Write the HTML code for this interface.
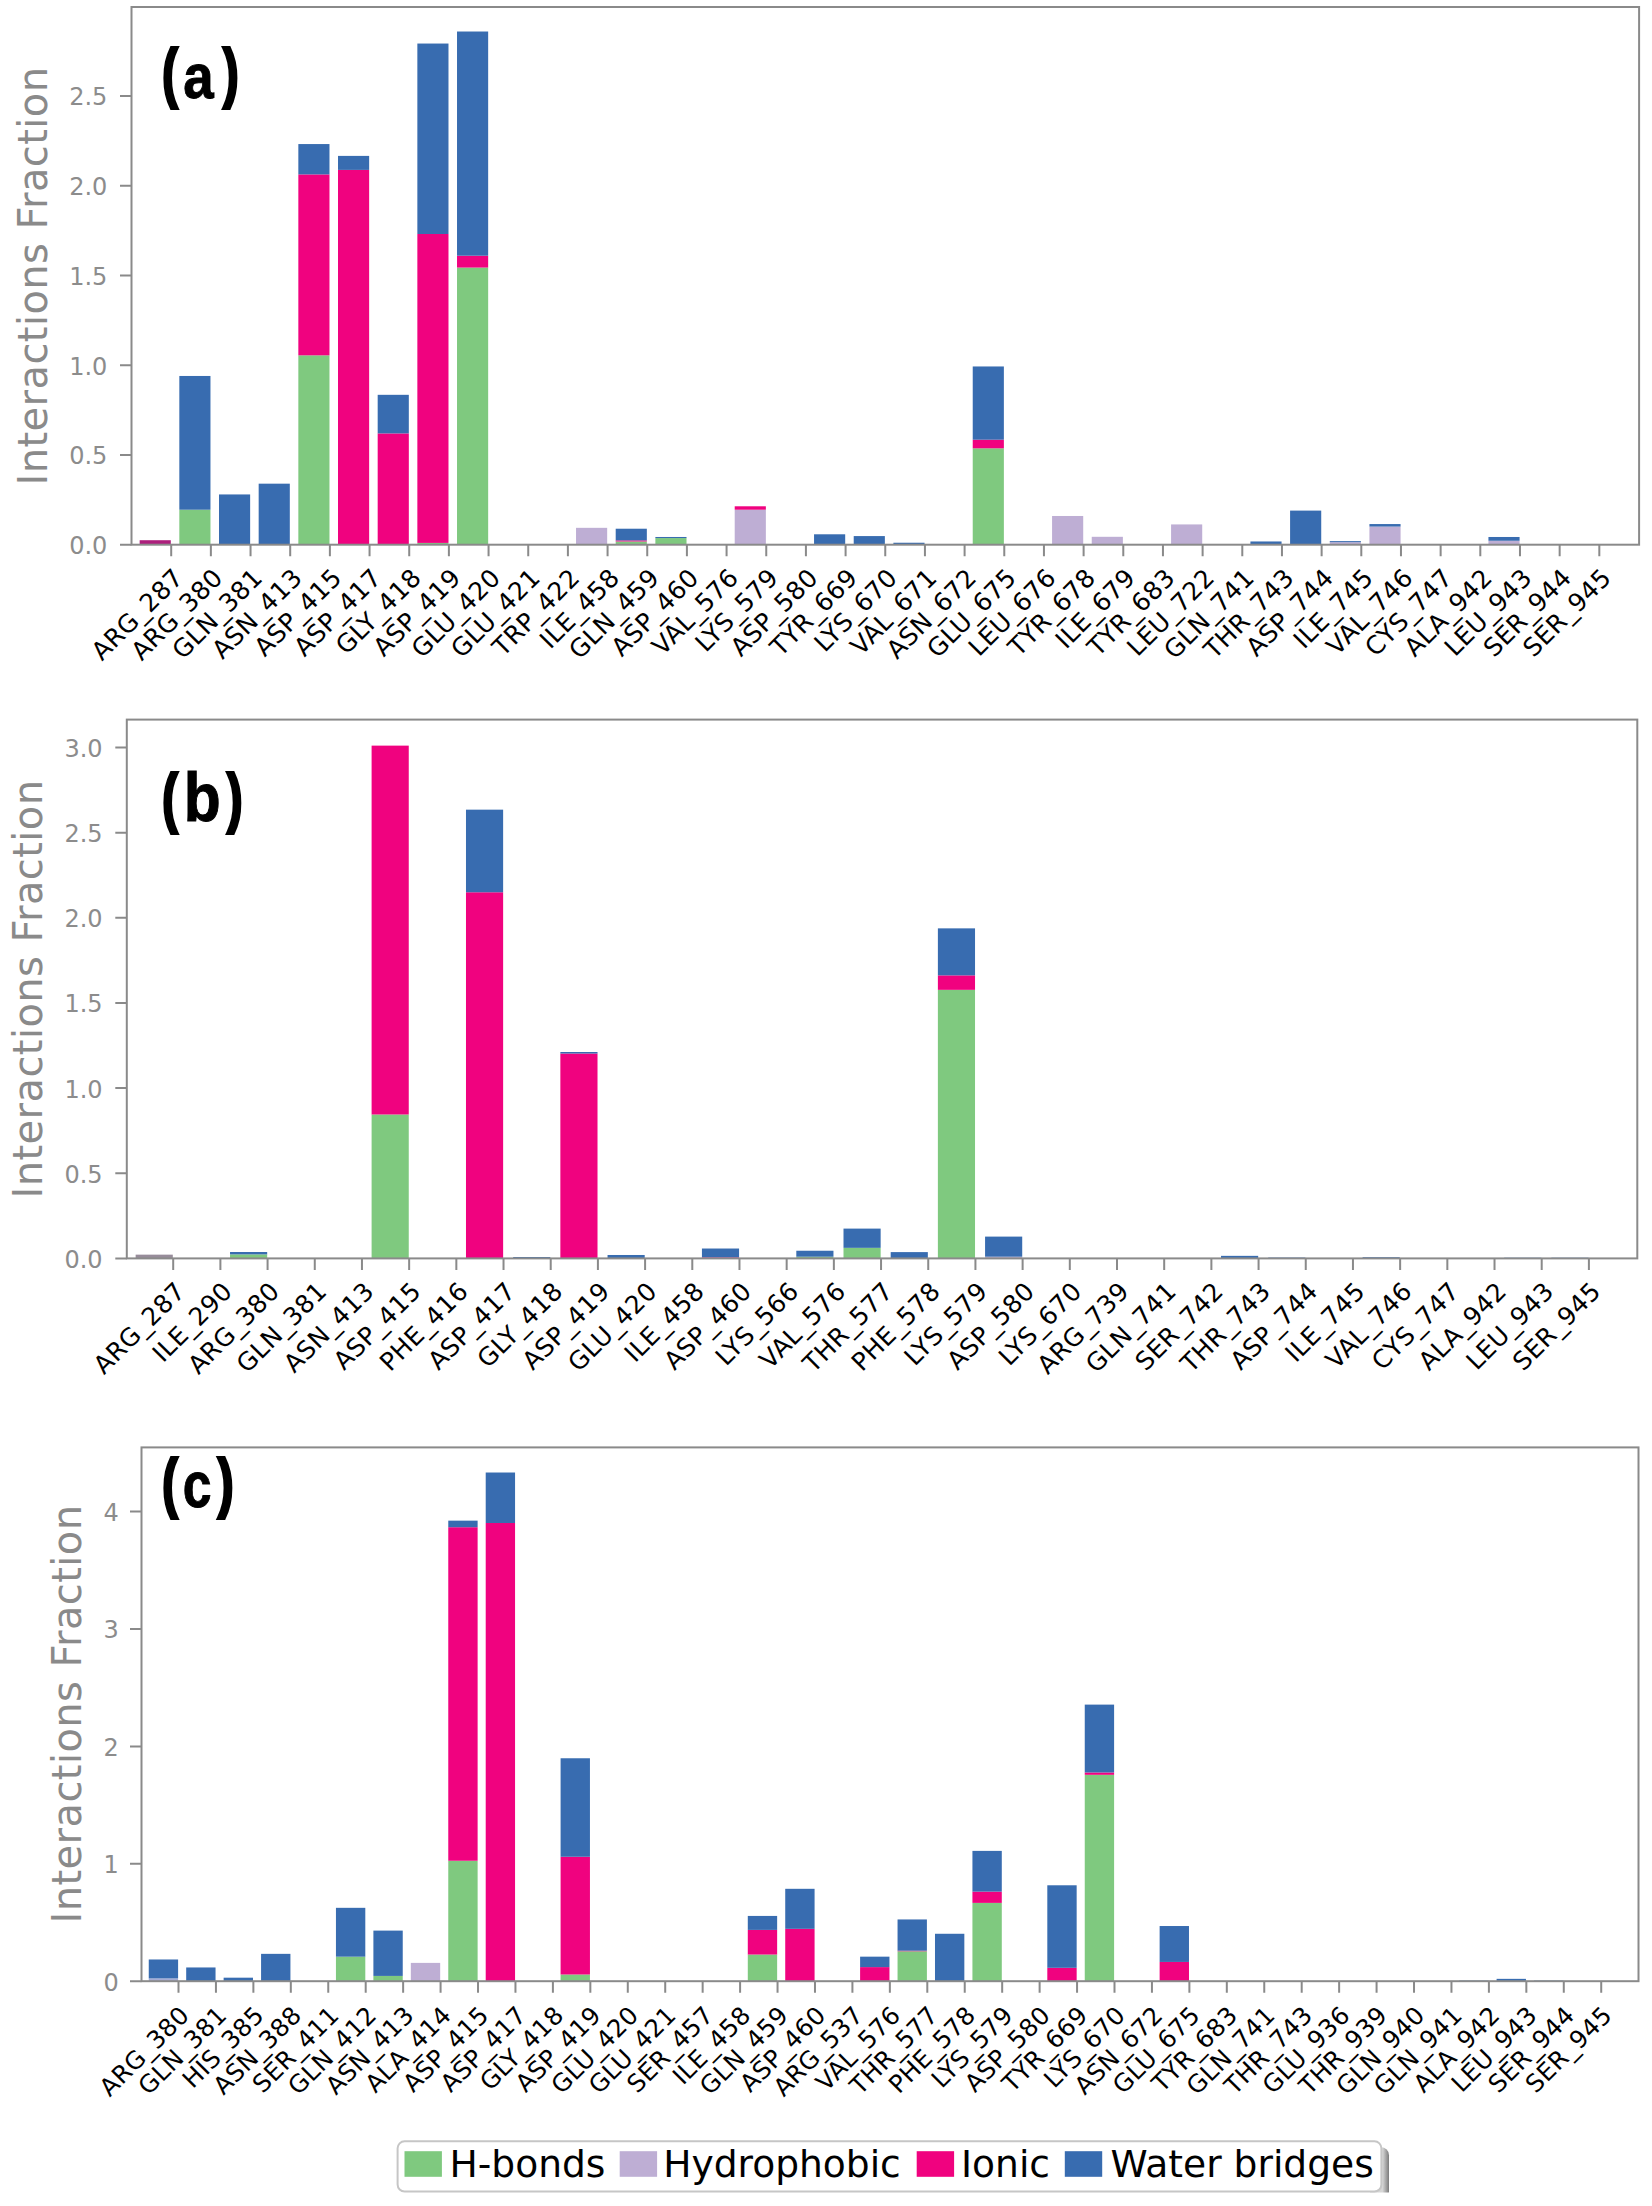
<!DOCTYPE html>
<html lang="en"><head><meta charset="utf-8"><title>Interactions Fraction</title>
<style>html,body{margin:0;padding:0;background:#fff}svg{display:block}text{font-family:"DejaVu Sans","Liberation Sans",sans-serif}.xt{font-size:25px;fill:#000;text-anchor:end;letter-spacing:0.4px}.yt{font-size:24px;fill:#8c8c8c;text-anchor:end}.yl{font-size:40px;fill:#8a8a8a;text-anchor:middle;letter-spacing:0.42px}.tag{font-family:"Liberation Sans",sans-serif;font-weight:700;fill:#000}.lg{font-size:37.6px;fill:#000}</style></head><body>
<svg width="1652" height="2206" viewBox="0 0 1652 2206">
<rect width="1652" height="2206" fill="#fff"/>
<g id="panel-a">
<g shape-rendering="auto">
<rect x="139.66" y="540.21" width="31.14" height="4.49" fill="#ad1f7c"/>
<rect x="179.33" y="509.7" width="31.14" height="35" fill="#7fc97f"/>
<rect x="179.33" y="375.97" width="31.14" height="133.73" fill="#386cb0"/>
<rect x="219" y="494.44" width="31.14" height="50.26" fill="#386cb0"/>
<rect x="258.67" y="483.67" width="31.14" height="61.03" fill="#386cb0"/>
<rect x="298.34" y="355.33" width="31.14" height="189.37" fill="#7fc97f"/>
<rect x="298.34" y="174.39" width="31.14" height="180.94" fill="#f0027f"/>
<rect x="298.34" y="144.06" width="31.14" height="30.34" fill="#386cb0"/>
<rect x="338.01" y="169.9" width="31.14" height="374.8" fill="#f0027f"/>
<rect x="338.01" y="155.9" width="31.14" height="14" fill="#386cb0"/>
<rect x="377.68" y="433.41" width="31.14" height="111.29" fill="#f0027f"/>
<rect x="377.68" y="394.82" width="31.14" height="38.59" fill="#386cb0"/>
<rect x="417.35" y="542.91" width="31.14" height="1.79" fill="#7fc97f"/>
<rect x="417.35" y="233.99" width="31.14" height="308.92" fill="#f0027f"/>
<rect x="417.35" y="43.54" width="31.14" height="190.45" fill="#386cb0"/>
<rect x="457.02" y="267.55" width="31.14" height="277.15" fill="#7fc97f"/>
<rect x="457.02" y="255.71" width="31.14" height="11.85" fill="#f0027f"/>
<rect x="457.02" y="31.51" width="31.14" height="224.2" fill="#386cb0"/>
<rect x="576.03" y="527.83" width="31.14" height="16.87" fill="#beaed4"/>
<rect x="615.7" y="541.47" width="31.14" height="3.23" fill="#7fc97f"/>
<rect x="615.7" y="540.39" width="31.14" height="1.08" fill="#f0027f"/>
<rect x="615.7" y="528.72" width="31.14" height="11.67" fill="#386cb0"/>
<rect x="655.37" y="538.06" width="31.14" height="6.64" fill="#7fc97f"/>
<rect x="655.37" y="536.98" width="31.14" height="1.08" fill="#386cb0"/>
<rect x="734.71" y="509.7" width="31.14" height="35" fill="#beaed4"/>
<rect x="734.71" y="506.29" width="31.14" height="3.41" fill="#f0027f"/>
<rect x="814.05" y="534.29" width="31.14" height="10.41" fill="#386cb0"/>
<rect x="853.72" y="536.08" width="31.14" height="8.62" fill="#386cb0"/>
<rect x="893.39" y="542.73" width="31.14" height="1.97" fill="#386cb0"/>
<rect x="972.73" y="448.31" width="31.14" height="96.39" fill="#7fc97f"/>
<rect x="972.73" y="439.69" width="31.14" height="8.62" fill="#f0027f"/>
<rect x="972.73" y="366.46" width="31.14" height="73.24" fill="#386cb0"/>
<rect x="1052.07" y="515.98" width="31.14" height="28.72" fill="#beaed4"/>
<rect x="1091.74" y="536.8" width="31.14" height="7.9" fill="#beaed4"/>
<rect x="1171.08" y="524.42" width="31.14" height="20.28" fill="#beaed4"/>
<rect x="1250.42" y="541.47" width="31.14" height="3.23" fill="#386cb0"/>
<rect x="1290.09" y="510.6" width="31.14" height="34.11" fill="#386cb0"/>
<rect x="1329.76" y="542.19" width="31.14" height="2.51" fill="#beaed4"/>
<rect x="1329.76" y="541.11" width="31.14" height="1.08" fill="#386cb0"/>
<rect x="1369.43" y="526.57" width="31.14" height="18.13" fill="#beaed4"/>
<rect x="1369.43" y="524.06" width="31.14" height="2.51" fill="#386cb0"/>
<rect x="1488.44" y="540.75" width="31.14" height="3.95" fill="#beaed4"/>
<rect x="1488.44" y="536.98" width="31.14" height="3.77" fill="#386cb0"/>
<rect x="1567.78" y="544.16" width="31.14" height="0.54" fill="#386cb0"/>
</g>
<rect x="131.5" y="7" width="1507.6" height="537.7" fill="none" stroke="#8a8a8a" stroke-width="2"/>
<path d="M120 544.7H131.5M120 454.95H131.5M120 365.2H131.5M120 275.45H131.5M120 185.7H131.5M120 95.95H131.5M171.2 544.7V556.2M210.87 544.7V556.2M250.54 544.7V556.2M290.21 544.7V556.2M329.88 544.7V556.2M369.55 544.7V556.2M409.22 544.7V556.2M448.89 544.7V556.2M488.56 544.7V556.2M528.23 544.7V556.2M567.9 544.7V556.2M607.57 544.7V556.2M647.24 544.7V556.2M686.91 544.7V556.2M726.58 544.7V556.2M766.25 544.7V556.2M805.92 544.7V556.2M845.59 544.7V556.2M885.26 544.7V556.2M924.93 544.7V556.2M964.6 544.7V556.2M1004.27 544.7V556.2M1043.94 544.7V556.2M1083.61 544.7V556.2M1123.28 544.7V556.2M1162.95 544.7V556.2M1202.62 544.7V556.2M1242.29 544.7V556.2M1281.96 544.7V556.2M1321.63 544.7V556.2M1361.3 544.7V556.2M1400.97 544.7V556.2M1440.64 544.7V556.2M1480.31 544.7V556.2M1519.98 544.7V556.2M1559.65 544.7V556.2M1599.32 544.7V556.2" stroke="#8a8a8a" stroke-width="2" fill="none"/>
<text class="yt" x="107.4" y="554.12">0.0</text>
<text class="yt" x="107.4" y="464.37">0.5</text>
<text class="yt" x="107.4" y="374.62">1.0</text>
<text class="yt" x="107.4" y="284.87">1.5</text>
<text class="yt" x="107.4" y="195.12">2.0</text>
<text class="yt" x="107.4" y="105.37">2.5</text>
<text class="yl" transform="translate(47.2 276) rotate(-90)">Interactions Fraction</text>
<text class="xt" transform="translate(184.7 579.1) rotate(-45)">ARG_287</text>
<text class="xt" transform="translate(224.37 579.1) rotate(-45)">ARG_380</text>
<text class="xt" transform="translate(264.04 579.1) rotate(-45)">GLN_381</text>
<text class="xt" transform="translate(303.71 579.1) rotate(-45)">ASN_413</text>
<text class="xt" transform="translate(343.38 579.1) rotate(-45)">ASP_415</text>
<text class="xt" transform="translate(383.05 579.1) rotate(-45)">ASP_417</text>
<text class="xt" transform="translate(422.72 579.1) rotate(-45)">GLY_418</text>
<text class="xt" transform="translate(462.39 579.1) rotate(-45)">ASP_419</text>
<text class="xt" transform="translate(502.06 579.1) rotate(-45)">GLU_420</text>
<text class="xt" transform="translate(541.73 579.1) rotate(-45)">GLU_421</text>
<text class="xt" transform="translate(581.4 579.1) rotate(-45)">TRP_422</text>
<text class="xt" transform="translate(621.07 579.1) rotate(-45)">ILE_458</text>
<text class="xt" transform="translate(660.74 579.1) rotate(-45)">GLN_459</text>
<text class="xt" transform="translate(700.41 579.1) rotate(-45)">ASP_460</text>
<text class="xt" transform="translate(740.08 579.1) rotate(-45)">VAL_576</text>
<text class="xt" transform="translate(779.75 579.1) rotate(-45)">LYS_579</text>
<text class="xt" transform="translate(819.42 579.1) rotate(-45)">ASP_580</text>
<text class="xt" transform="translate(859.09 579.1) rotate(-45)">TYR_669</text>
<text class="xt" transform="translate(898.76 579.1) rotate(-45)">LYS_670</text>
<text class="xt" transform="translate(938.43 579.1) rotate(-45)">VAL_671</text>
<text class="xt" transform="translate(978.1 579.1) rotate(-45)">ASN_672</text>
<text class="xt" transform="translate(1017.77 579.1) rotate(-45)">GLU_675</text>
<text class="xt" transform="translate(1057.44 579.1) rotate(-45)">LEU_676</text>
<text class="xt" transform="translate(1097.11 579.1) rotate(-45)">TYR_678</text>
<text class="xt" transform="translate(1136.78 579.1) rotate(-45)">ILE_679</text>
<text class="xt" transform="translate(1176.45 579.1) rotate(-45)">TYR_683</text>
<text class="xt" transform="translate(1216.12 579.1) rotate(-45)">LEU_722</text>
<text class="xt" transform="translate(1255.79 579.1) rotate(-45)">GLN_741</text>
<text class="xt" transform="translate(1295.46 579.1) rotate(-45)">THR_743</text>
<text class="xt" transform="translate(1335.13 579.1) rotate(-45)">ASP_744</text>
<text class="xt" transform="translate(1374.8 579.1) rotate(-45)">ILE_745</text>
<text class="xt" transform="translate(1414.47 579.1) rotate(-45)">VAL_746</text>
<text class="xt" transform="translate(1454.14 579.1) rotate(-45)">CYS_747</text>
<text class="xt" transform="translate(1493.81 579.1) rotate(-45)">ALA_942</text>
<text class="xt" transform="translate(1533.48 579.1) rotate(-45)">LEU_943</text>
<text class="xt" transform="translate(1573.15 579.1) rotate(-45)">SER_944</text>
<text class="xt" transform="translate(1612.82 579.1) rotate(-45)">SER_945</text>
<text class="tag" stroke="#000" stroke-linejoin="miter"><tspan x="162.42" y="95.13" font-size="64.71" textLength="14.74" lengthAdjust="spacingAndGlyphs" stroke-width="3.88">(</tspan><tspan x="183.31" y="97.60" font-size="63.42" textLength="30.44" lengthAdjust="spacingAndGlyphs" stroke-width="0.95">a</tspan><tspan x="223.59" y="95.13" font-size="64.71" textLength="14.79" lengthAdjust="spacingAndGlyphs" stroke-width="3.88">)</tspan></text>
</g>
<g id="panel-b">
<g shape-rendering="auto">
<rect x="135.65" y="1254.65" width="37.15" height="3.75" fill="#978c9a"/>
<rect x="230.03" y="1254.4" width="37.15" height="4" fill="#7fc97f"/>
<rect x="230.03" y="1252.01" width="37.15" height="2.38" fill="#386cb0"/>
<rect x="371.6" y="1114.5" width="37.15" height="143.9" fill="#7fc97f"/>
<rect x="371.6" y="745.63" width="37.15" height="368.87" fill="#f0027f"/>
<rect x="465.98" y="892.26" width="37.15" height="366.14" fill="#f0027f"/>
<rect x="465.98" y="809.66" width="37.15" height="82.6" fill="#386cb0"/>
<rect x="513.17" y="1257.04" width="37.15" height="1.36" fill="#386cb0"/>
<rect x="560.36" y="1053.53" width="37.15" height="204.87" fill="#f0027f"/>
<rect x="560.36" y="1052" width="37.15" height="1.53" fill="#386cb0"/>
<rect x="607.55" y="1254.99" width="37.15" height="3.41" fill="#386cb0"/>
<rect x="701.93" y="1257.38" width="37.15" height="1.02" fill="#f0027f"/>
<rect x="701.93" y="1248.52" width="37.15" height="8.86" fill="#386cb0"/>
<rect x="796.31" y="1256.7" width="37.15" height="1.7" fill="#7fc97f"/>
<rect x="796.31" y="1250.74" width="37.15" height="5.96" fill="#386cb0"/>
<rect x="843.5" y="1247.84" width="37.15" height="10.56" fill="#7fc97f"/>
<rect x="843.5" y="1228.6" width="37.15" height="19.24" fill="#386cb0"/>
<rect x="890.69" y="1252.1" width="37.15" height="6.3" fill="#386cb0"/>
<rect x="937.88" y="989.84" width="37.15" height="268.56" fill="#7fc97f"/>
<rect x="937.88" y="975.36" width="37.15" height="14.48" fill="#f0027f"/>
<rect x="937.88" y="928.36" width="37.15" height="47" fill="#386cb0"/>
<rect x="985.07" y="1256.7" width="37.15" height="1.7" fill="#beaed4"/>
<rect x="985.07" y="1236.6" width="37.15" height="20.1" fill="#386cb0"/>
<rect x="1221.02" y="1255.85" width="37.15" height="2.55" fill="#386cb0"/>
<rect x="1268.21" y="1257.55" width="37.15" height="0.85" fill="#386cb0"/>
<rect x="1362.59" y="1257.21" width="37.15" height="1.19" fill="#386cb0"/>
<rect x="1504.16" y="1257.72" width="37.15" height="0.68" fill="#386cb0"/>
<rect x="1551.35" y="1257.72" width="37.15" height="0.68" fill="#386cb0"/>
</g>
<rect x="126.8" y="719.6" width="1510.5" height="538.8" fill="none" stroke="#8a8a8a" stroke-width="2"/>
<path d="M115.3 1258.4H126.8M115.3 1173.25H126.8M115.3 1088.1H126.8M115.3 1002.95H126.8M115.3 917.8H126.8M115.3 832.65H126.8M115.3 747.5H126.8M173.2 1258.4V1269.9M220.39 1258.4V1269.9M267.58 1258.4V1269.9M314.77 1258.4V1269.9M361.96 1258.4V1269.9M409.15 1258.4V1269.9M456.34 1258.4V1269.9M503.53 1258.4V1269.9M550.72 1258.4V1269.9M597.91 1258.4V1269.9M645.1 1258.4V1269.9M692.29 1258.4V1269.9M739.48 1258.4V1269.9M786.67 1258.4V1269.9M833.86 1258.4V1269.9M881.05 1258.4V1269.9M928.24 1258.4V1269.9M975.43 1258.4V1269.9M1022.62 1258.4V1269.9M1069.81 1258.4V1269.9M1117 1258.4V1269.9M1164.19 1258.4V1269.9M1211.38 1258.4V1269.9M1258.57 1258.4V1269.9M1305.76 1258.4V1269.9M1352.95 1258.4V1269.9M1400.14 1258.4V1269.9M1447.33 1258.4V1269.9M1494.52 1258.4V1269.9M1541.71 1258.4V1269.9M1588.9 1258.4V1269.9" stroke="#8a8a8a" stroke-width="2" fill="none"/>
<text class="yt" x="102.6" y="1267.82">0.0</text>
<text class="yt" x="102.6" y="1182.67">0.5</text>
<text class="yt" x="102.6" y="1097.52">1.0</text>
<text class="yt" x="102.6" y="1012.37">1.5</text>
<text class="yt" x="102.6" y="927.22">2.0</text>
<text class="yt" x="102.6" y="842.07">2.5</text>
<text class="yt" x="102.6" y="756.92">3.0</text>
<text class="yl" transform="translate(42.3 989) rotate(-90)">Interactions Fraction</text>
<text class="xt" transform="translate(186.7 1292.8) rotate(-45)">ARG_287</text>
<text class="xt" transform="translate(233.89 1292.8) rotate(-45)">ILE_290</text>
<text class="xt" transform="translate(281.08 1292.8) rotate(-45)">ARG_380</text>
<text class="xt" transform="translate(328.27 1292.8) rotate(-45)">GLN_381</text>
<text class="xt" transform="translate(375.46 1292.8) rotate(-45)">ASN_413</text>
<text class="xt" transform="translate(422.65 1292.8) rotate(-45)">ASP_415</text>
<text class="xt" transform="translate(469.84 1292.8) rotate(-45)">PHE_416</text>
<text class="xt" transform="translate(517.03 1292.8) rotate(-45)">ASP_417</text>
<text class="xt" transform="translate(564.22 1292.8) rotate(-45)">GLY_418</text>
<text class="xt" transform="translate(611.41 1292.8) rotate(-45)">ASP_419</text>
<text class="xt" transform="translate(658.6 1292.8) rotate(-45)">GLU_420</text>
<text class="xt" transform="translate(705.79 1292.8) rotate(-45)">ILE_458</text>
<text class="xt" transform="translate(752.98 1292.8) rotate(-45)">ASP_460</text>
<text class="xt" transform="translate(800.17 1292.8) rotate(-45)">LYS_566</text>
<text class="xt" transform="translate(847.36 1292.8) rotate(-45)">VAL_576</text>
<text class="xt" transform="translate(894.55 1292.8) rotate(-45)">THR_577</text>
<text class="xt" transform="translate(941.74 1292.8) rotate(-45)">PHE_578</text>
<text class="xt" transform="translate(988.93 1292.8) rotate(-45)">LYS_579</text>
<text class="xt" transform="translate(1036.12 1292.8) rotate(-45)">ASP_580</text>
<text class="xt" transform="translate(1083.31 1292.8) rotate(-45)">LYS_670</text>
<text class="xt" transform="translate(1130.5 1292.8) rotate(-45)">ARG_739</text>
<text class="xt" transform="translate(1177.69 1292.8) rotate(-45)">GLN_741</text>
<text class="xt" transform="translate(1224.88 1292.8) rotate(-45)">SER_742</text>
<text class="xt" transform="translate(1272.07 1292.8) rotate(-45)">THR_743</text>
<text class="xt" transform="translate(1319.26 1292.8) rotate(-45)">ASP_744</text>
<text class="xt" transform="translate(1366.45 1292.8) rotate(-45)">ILE_745</text>
<text class="xt" transform="translate(1413.64 1292.8) rotate(-45)">VAL_746</text>
<text class="xt" transform="translate(1460.83 1292.8) rotate(-45)">CYS_747</text>
<text class="xt" transform="translate(1508.02 1292.8) rotate(-45)">ALA_942</text>
<text class="xt" transform="translate(1555.21 1292.8) rotate(-45)">LEU_943</text>
<text class="xt" transform="translate(1602.4 1292.8) rotate(-45)">SER_945</text>
<text class="tag" stroke="#000" stroke-linejoin="miter"><tspan x="162.42" y="819.88" font-size="64.51" textLength="14.74" lengthAdjust="spacingAndGlyphs" stroke-width="3.87">(</tspan><tspan x="183.77" y="821.32" font-size="67.92" textLength="36.96" lengthAdjust="spacingAndGlyphs" stroke-width="1.02">b</tspan><tspan x="227.58" y="819.88" font-size="64.51" textLength="14.69" lengthAdjust="spacingAndGlyphs" stroke-width="3.87">)</tspan></text>
</g>
<g id="panel-c">
<g shape-rendering="auto">
<rect x="148.75" y="1978.38" width="29.35" height="2.82" fill="#a5acd6"/>
<rect x="148.75" y="1959.48" width="29.35" height="18.9" fill="#386cb0"/>
<rect x="186.19" y="1967.46" width="29.35" height="13.74" fill="#386cb0"/>
<rect x="223.63" y="1977.68" width="29.35" height="3.52" fill="#386cb0"/>
<rect x="261.07" y="1953.85" width="29.35" height="27.35" fill="#386cb0"/>
<rect x="335.95" y="1956.66" width="29.35" height="24.54" fill="#7fc97f"/>
<rect x="335.95" y="1907.83" width="29.35" height="48.84" fill="#386cb0"/>
<rect x="373.39" y="1975.92" width="29.35" height="5.28" fill="#7fc97f"/>
<rect x="373.39" y="1930.6" width="29.35" height="45.32" fill="#386cb0"/>
<rect x="410.83" y="1962.89" width="29.35" height="18.31" fill="#beaed4"/>
<rect x="448.27" y="1860.75" width="29.35" height="120.45" fill="#7fc97f"/>
<rect x="448.27" y="1527.21" width="29.35" height="333.53" fill="#f0027f"/>
<rect x="448.27" y="1520.64" width="29.35" height="6.57" fill="#386cb0"/>
<rect x="485.71" y="1522.99" width="29.35" height="458.21" fill="#f0027f"/>
<rect x="485.71" y="1472.51" width="29.35" height="50.48" fill="#386cb0"/>
<rect x="560.59" y="1974.51" width="29.35" height="6.69" fill="#7fc97f"/>
<rect x="560.59" y="1856.76" width="29.35" height="117.75" fill="#f0027f"/>
<rect x="560.59" y="1758.26" width="29.35" height="98.5" fill="#386cb0"/>
<rect x="747.79" y="1954.55" width="29.35" height="26.65" fill="#7fc97f"/>
<rect x="747.79" y="1929.9" width="29.35" height="24.65" fill="#f0027f"/>
<rect x="747.79" y="1915.93" width="29.35" height="13.97" fill="#386cb0"/>
<rect x="785.23" y="1928.84" width="29.35" height="52.36" fill="#f0027f"/>
<rect x="785.23" y="1888.81" width="29.35" height="40.03" fill="#386cb0"/>
<rect x="860.11" y="1967.11" width="29.35" height="14.09" fill="#f0027f"/>
<rect x="860.11" y="1956.66" width="29.35" height="10.45" fill="#386cb0"/>
<rect x="897.55" y="1951.26" width="29.35" height="29.94" fill="#7fc97f"/>
<rect x="897.55" y="1950.68" width="29.35" height="0.59" fill="#f0027f"/>
<rect x="897.55" y="1919.45" width="29.35" height="31.23" fill="#386cb0"/>
<rect x="934.99" y="1933.77" width="29.35" height="47.43" fill="#386cb0"/>
<rect x="972.43" y="1902.89" width="29.35" height="78.31" fill="#7fc97f"/>
<rect x="972.43" y="1891.62" width="29.35" height="11.27" fill="#f0027f"/>
<rect x="972.43" y="1850.89" width="29.35" height="40.74" fill="#386cb0"/>
<rect x="1047.31" y="1967.82" width="29.35" height="13.38" fill="#f0027f"/>
<rect x="1047.31" y="1885.28" width="29.35" height="82.53" fill="#386cb0"/>
<rect x="1084.75" y="1774.81" width="29.35" height="206.39" fill="#7fc97f"/>
<rect x="1084.75" y="1772.46" width="29.35" height="2.35" fill="#f0027f"/>
<rect x="1084.75" y="1704.61" width="29.35" height="67.86" fill="#386cb0"/>
<rect x="1159.63" y="1961.95" width="29.35" height="19.25" fill="#f0027f"/>
<rect x="1159.63" y="1926.02" width="29.35" height="35.92" fill="#386cb0"/>
<rect x="1459.15" y="1980.61" width="29.35" height="0.59" fill="#386cb0"/>
<rect x="1496.59" y="1978.85" width="29.35" height="2.35" fill="#386cb0"/>
<rect x="1534.03" y="1980.61" width="29.35" height="0.59" fill="#386cb0"/>
</g>
<rect x="141.5" y="1447.4" width="1497" height="533.8" fill="none" stroke="#8a8a8a" stroke-width="2"/>
<path d="M130 1981.2H141.5M130 1863.8H141.5M130 1746.4H141.5M130 1629H141.5M130 1511.6H141.5M178.5 1981.2V1992.7M215.94 1981.2V1992.7M253.38 1981.2V1992.7M290.82 1981.2V1992.7M328.26 1981.2V1992.7M365.7 1981.2V1992.7M403.14 1981.2V1992.7M440.58 1981.2V1992.7M478.02 1981.2V1992.7M515.46 1981.2V1992.7M552.9 1981.2V1992.7M590.34 1981.2V1992.7M627.78 1981.2V1992.7M665.22 1981.2V1992.7M702.66 1981.2V1992.7M740.1 1981.2V1992.7M777.54 1981.2V1992.7M814.98 1981.2V1992.7M852.42 1981.2V1992.7M889.86 1981.2V1992.7M927.3 1981.2V1992.7M964.74 1981.2V1992.7M1002.18 1981.2V1992.7M1039.62 1981.2V1992.7M1077.06 1981.2V1992.7M1114.5 1981.2V1992.7M1151.94 1981.2V1992.7M1189.38 1981.2V1992.7M1226.82 1981.2V1992.7M1264.26 1981.2V1992.7M1301.7 1981.2V1992.7M1339.14 1981.2V1992.7M1376.58 1981.2V1992.7M1414.02 1981.2V1992.7M1451.46 1981.2V1992.7M1488.9 1981.2V1992.7M1526.34 1981.2V1992.7M1563.78 1981.2V1992.7M1601.22 1981.2V1992.7" stroke="#8a8a8a" stroke-width="2" fill="none"/>
<text class="yt" x="118.9" y="1990.62">0</text>
<text class="yt" x="118.9" y="1873.22">1</text>
<text class="yt" x="118.9" y="1755.82">2</text>
<text class="yt" x="118.9" y="1638.42">3</text>
<text class="yt" x="118.9" y="1521.02">4</text>
<text class="yl" transform="translate(81.3 1714) rotate(-90)">Interactions Fraction</text>
<text class="xt" style="font-size:24.5px" transform="translate(190.8 2016.6) rotate(-45)">ARG_380</text>
<text class="xt" style="font-size:24.5px" transform="translate(228.24 2016.6) rotate(-45)">GLN_381</text>
<text class="xt" style="font-size:24.5px" transform="translate(265.68 2016.6) rotate(-45)">HIS_385</text>
<text class="xt" style="font-size:24.5px" transform="translate(303.12 2016.6) rotate(-45)">ASN_388</text>
<text class="xt" style="font-size:24.5px" transform="translate(340.56 2016.6) rotate(-45)">SER_411</text>
<text class="xt" style="font-size:24.5px" transform="translate(378 2016.6) rotate(-45)">GLN_412</text>
<text class="xt" style="font-size:24.5px" transform="translate(415.44 2016.6) rotate(-45)">ASN_413</text>
<text class="xt" style="font-size:24.5px" transform="translate(452.88 2016.6) rotate(-45)">ALA_414</text>
<text class="xt" style="font-size:24.5px" transform="translate(490.32 2016.6) rotate(-45)">ASP_415</text>
<text class="xt" style="font-size:24.5px" transform="translate(527.76 2016.6) rotate(-45)">ASP_417</text>
<text class="xt" style="font-size:24.5px" transform="translate(565.2 2016.6) rotate(-45)">GLY_418</text>
<text class="xt" style="font-size:24.5px" transform="translate(602.64 2016.6) rotate(-45)">ASP_419</text>
<text class="xt" style="font-size:24.5px" transform="translate(640.08 2016.6) rotate(-45)">GLU_420</text>
<text class="xt" style="font-size:24.5px" transform="translate(677.52 2016.6) rotate(-45)">GLU_421</text>
<text class="xt" style="font-size:24.5px" transform="translate(714.96 2016.6) rotate(-45)">SER_457</text>
<text class="xt" style="font-size:24.5px" transform="translate(752.4 2016.6) rotate(-45)">ILE_458</text>
<text class="xt" style="font-size:24.5px" transform="translate(789.84 2016.6) rotate(-45)">GLN_459</text>
<text class="xt" style="font-size:24.5px" transform="translate(827.28 2016.6) rotate(-45)">ASP_460</text>
<text class="xt" style="font-size:24.5px" transform="translate(864.72 2016.6) rotate(-45)">ARG_537</text>
<text class="xt" style="font-size:24.5px" transform="translate(902.16 2016.6) rotate(-45)">VAL_576</text>
<text class="xt" style="font-size:24.5px" transform="translate(939.6 2016.6) rotate(-45)">THR_577</text>
<text class="xt" style="font-size:24.5px" transform="translate(977.04 2016.6) rotate(-45)">PHE_578</text>
<text class="xt" style="font-size:24.5px" transform="translate(1014.48 2016.6) rotate(-45)">LYS_579</text>
<text class="xt" style="font-size:24.5px" transform="translate(1051.92 2016.6) rotate(-45)">ASP_580</text>
<text class="xt" style="font-size:24.5px" transform="translate(1089.36 2016.6) rotate(-45)">TYR_669</text>
<text class="xt" style="font-size:24.5px" transform="translate(1126.8 2016.6) rotate(-45)">LYS_670</text>
<text class="xt" style="font-size:24.5px" transform="translate(1164.24 2016.6) rotate(-45)">ASN_672</text>
<text class="xt" style="font-size:24.5px" transform="translate(1201.68 2016.6) rotate(-45)">GLU_675</text>
<text class="xt" style="font-size:24.5px" transform="translate(1239.12 2016.6) rotate(-45)">TYR_683</text>
<text class="xt" style="font-size:24.5px" transform="translate(1276.56 2016.6) rotate(-45)">GLN_741</text>
<text class="xt" style="font-size:24.5px" transform="translate(1314 2016.6) rotate(-45)">THR_743</text>
<text class="xt" style="font-size:24.5px" transform="translate(1351.44 2016.6) rotate(-45)">GLU_936</text>
<text class="xt" style="font-size:24.5px" transform="translate(1388.88 2016.6) rotate(-45)">THR_939</text>
<text class="xt" style="font-size:24.5px" transform="translate(1426.32 2016.6) rotate(-45)">GLN_940</text>
<text class="xt" style="font-size:24.5px" transform="translate(1463.76 2016.6) rotate(-45)">GLN_941</text>
<text class="xt" style="font-size:24.5px" transform="translate(1501.2 2016.6) rotate(-45)">ALA_942</text>
<text class="xt" style="font-size:24.5px" transform="translate(1538.64 2016.6) rotate(-45)">LEU_943</text>
<text class="xt" style="font-size:24.5px" transform="translate(1576.08 2016.6) rotate(-45)">SER_944</text>
<text class="xt" style="font-size:24.5px" transform="translate(1613.52 2016.6) rotate(-45)">SER_945</text>
<text class="tag" stroke="#000" stroke-linejoin="miter"><tspan x="162.42" y="1504.65" font-size="64.21" textLength="14.74" lengthAdjust="spacingAndGlyphs" stroke-width="3.85">(</tspan><tspan x="182.87" y="1506.99" font-size="63.95" textLength="28.76" lengthAdjust="spacingAndGlyphs" stroke-width="0.96">c</tspan><tspan x="218.21" y="1504.65" font-size="64.21" textLength="14.99" lengthAdjust="spacingAndGlyphs" stroke-width="3.85">)</tspan></text>
</g>
<g id="legend">
<defs><linearGradient id="sh" gradientUnits="userSpaceOnUse" x1="1382.5" y1="0" x2="1389" y2="0"><stop offset="0" stop-color="#d6d6d6"/><stop offset="1" stop-color="#7c7c7c"/></linearGradient></defs>
<clipPath id="shc"><rect x="1370" y="2130" width="40" height="62.4"/></clipPath>
<rect x="404.6" y="2147.2" width="984.4" height="52" rx="8" ry="8" fill="url(#sh)" clip-path="url(#shc)"/>
<rect x="397.6" y="2141.3" width="983.8" height="50.3" rx="7" ry="7" fill="#fff" stroke="#c6c6c6" stroke-width="2"/>
<rect x="404.5" y="2151.2" width="37.4" height="25.6" fill="#7fc97f"/>
<text class="lg" x="449.5" y="2177.4">H-bonds</text>
<rect x="619.7" y="2151.2" width="37.4" height="25.6" fill="#beaed4"/>
<text class="lg" x="663.2" y="2177.4">Hydrophobic</text>
<rect x="916.7" y="2151.2" width="37.4" height="25.6" fill="#f0027f"/>
<text class="lg" x="961" y="2177.4">Ionic</text>
<rect x="1064.8" y="2151.2" width="37.4" height="25.6" fill="#386cb0"/>
<text class="lg" x="1110.6" y="2177.4">Water bridges</text>
</g>
</svg></body></html>
